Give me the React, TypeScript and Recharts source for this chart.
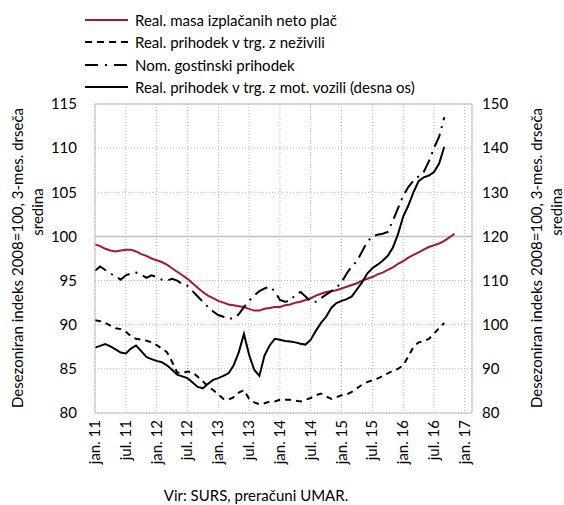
import React from 'react'
import { LineChart, Line, XAxis, YAxis, CartesianGrid, ReferenceLine } from 'recharts'

// months counted from jan. 2011 (index 0)
const wageMass = [
  99.1, 98.9, 98.6, 98.4, 98.3, 98.4, 98.5, 98.5, 98.3, 98.0, 97.8, 97.5,
  97.3, 97.1, 96.8, 96.4, 96.0, 95.6, 95.2, 94.7, 94.2, 93.7, 93.3, 93.0,
  92.7, 92.5, 92.3, 92.2, 92.1, 92.0, 91.8, 91.6, 91.6, 91.8, 91.9, 92.0,
  92.0, 92.2, 92.3, 92.5, 92.6, 92.8, 93.0, 93.3, 93.5, 93.7, 93.8, 93.9,
  94.1, 94.3, 94.5, 94.7, 95.0, 95.2, 95.4, 95.7, 95.9, 96.2, 96.5, 96.9,
  97.2, 97.6, 97.9, 98.2, 98.5, 98.8, 99.0, 99.2, 99.5, 99.9, 100.3,
]

const nonFoodRetail = [
  90.5, 90.4, 90.2, 89.9, 89.6, 89.5, 89.2, 88.7, 88.4, 88.3, 88.2, 88.0,
  87.7, 87.3, 86.9, 85.8, 84.6, 84.5, 84.7, 84.6, 84.1, 83.6, 83.0, 82.6,
  82.1, 81.6, 81.5, 81.8, 82.3, 82.6, 81.6, 81.2, 81.0, 81.1, 81.3, 81.3,
  81.5, 81.5, 81.5, 81.4, 81.3, 81.5, 81.7, 82.0, 82.2, 81.9, 81.6, 81.8,
  82.0, 82.1, 82.4, 82.8, 83.2, 83.5, 83.7, 83.9, 84.2, 84.5, 84.8, 85.0,
  85.4, 86.4, 87.5, 88.0, 88.1, 88.4, 89.0, 89.6, 90.2,
]

const hospitality = [
  96.1, 96.6, 96.2, 95.8, 95.5, 95.1, 95.6, 95.8, 95.9, 95.7, 95.3, 95.6,
  95.4, 95.1, 95.0, 95.2, 95.0, 94.6, 94.4, 93.8, 93.2, 92.6, 92.0, 91.5,
  91.1, 90.9, 90.7, 90.7, 91.2, 92.0, 92.7, 93.3, 93.8, 94.1, 94.3, 93.8,
  92.8, 92.6, 92.7, 93.4, 93.7, 93.2, 92.6, 92.6, 93.0, 93.4, 93.8, 94.2,
  94.8, 95.8, 96.6, 97.2, 98.3, 99.4, 100.0, 100.2, 100.3, 100.5, 101.8, 103.2,
  104.6, 105.6, 106.3, 106.8, 107.3, 108.5, 110.0, 111.3, 113.5,
]

// right axis
const motorVehicles = [
  94.8, 95.2, 95.6, 95.1, 94.4, 93.7, 93.5, 94.6, 95.3, 94.0, 92.7, 92.2,
  91.8, 91.5, 90.8, 89.8, 88.7, 88.3, 87.9, 86.9, 85.9, 85.6, 86.6, 87.5,
  87.9, 88.4, 89.0, 90.8, 93.8, 97.9, 93.2, 89.8, 88.4, 93.0, 95.3, 96.8,
  96.6, 96.3, 96.2, 96.0, 95.7, 95.5, 96.6, 98.6, 100.4, 101.8, 103.8, 104.9,
  105.4, 105.8, 106.4, 108.0, 109.6, 111.6, 112.8, 113.6, 114.5, 115.6, 117.5, 120.5,
  124.5, 127.0, 130.0, 132.5, 133.4, 133.8, 134.6, 136.5, 140.3,
]

const xTickLabels = [
  'jan. 11', 'jul. 11', 'jan. 12', 'jul. 12', 'jan. 13', 'jul. 13', 'jan. 14',
  'jul. 14', 'jan. 15', 'jul. 15', 'jan. 16', 'jul. 16', 'jan. 17',
]
const leftTicks = [80, 85, 90, 95, 100, 105, 110, 115]
const rightTicks = [80, 90, 100, 110, 120, 130, 140, 150]

const seriesNames = [
  'Real. masa izplačanih neto plač',
  'Real. prihodek v trg. z neživili',
  'Nom. gostinski prihodek',
  'Real. prihodek v trg. z mot. vozili (desna os)',
]
const axisTitle = 'Desezoniran indeks 2008=100, 3-mes. drseča'
const axisTitle2 = 'sredina'
const source = 'Vir: SURS, preračuni UMAR.'

const FONT = 'Lato, "Open Sans", sans-serif'
const RED = '#a6192e'

const data = wageMass.map((w, i) => ({
  m: i,
  wage: w,
  nonfood: nonFoodRetail[i] ?? null,
  gost: hospitality[i] ?? null,
  motor: motorVehicles[i] ?? null,
}))

const legendStyles = [
  { stroke: RED, dash: undefined },
  { stroke: '#000', dash: '7 5' },
  { stroke: '#000', dash: '13 7 2 7' },
  { stroke: '#000', dash: undefined },
]

const XTick = (props: any) => {
  const { x, y, payload } = props
  const label = xTickLabels[Math.round(payload.value / 6)]
  return (
    <text
      x={x}
      y={y}
      dx={-7}
      dy={5}
      transform={`rotate(-90 ${x} ${y})`}
      textAnchor="end"
      fontSize={15}
      fontFamily={FONT}
      fill="#000"
    >
      {label}
    </text>
  )
}

const SideTitle = ({ x1, x2 }: { x1: number; x2: number }) => (
  <g fontFamily={FONT} fontSize={15} fill="#000">
    <text x={x1} y={258} transform={`rotate(-90 ${x1} 258)`} textAnchor="middle">
      {axisTitle}
    </text>
    <text x={x2} y={212} transform={`rotate(-90 ${x2} 212)`} textAnchor="middle">
      {axisTitle2}
    </text>
  </g>
)

const LegendBox = () => (
  <div
    style={{
      position: 'absolute',
      top: 9,
      left: 83,
      fontFamily: FONT,
      fontSize: 15,
      color: '#000',
    }}
  >
    {seriesNames.map((name, i) => (
      <div key={name} style={{ display: 'flex', alignItems: 'center', height: 22.3 }}>
        <svg width={52} height={10}>
          <line
            x1={2}
            x2={45}
            y1={5}
            y2={5}
            stroke={legendStyles[i].stroke}
            strokeWidth={2}
            strokeDasharray={legendStyles[i].dash}
          />
        </svg>
        <span>{name}</span>
      </div>
    ))}
  </div>
)

export default function App() {
  return (
    <div style={{ position: 'absolute', left: 0, top: 0, width: 564, height: 505, background: '#fff' }}>
      <LineChart
        width={564}
        height={505}
        data={data}
        margin={{ top: 104, right: 0, bottom: 0, left: 0 }}
      >
        <CartesianGrid stroke="#b5b5b5" strokeDasharray="1 2" />
        <XAxis
          dataKey="m"
          type="number"
          domain={[0, 73.4]}
          ticks={[0, 6, 12, 18, 24, 30, 36, 42, 48, 54, 60, 66, 72]}
          height={92}
          tickSize={0}
          tickMargin={0}
          tick={<XTick />}
          axisLine={{ stroke: '#bfbfbf' }}
          tickLine={false}
          interval={0}
        />
        <YAxis
          domain={[80, 115]}
          ticks={leftTicks}
          width={95}
          tickSize={0}
          tickMargin={18}
          axisLine={{ stroke: '#bfbfbf' }}
          tickLine={false}
          tick={{ fontSize: 15, fontFamily: FONT, fill: '#000' }}
          allowDataOverflow
          label={{ content: () => <SideTitle x1={23} x2={43} /> }}
        />
        <YAxis
          yAxisId="right"
          orientation="right"
          domain={[80, 150]}
          ticks={rightTicks}
          width={92}
          tickSize={0}
          tickMargin={10}
          axisLine={{ stroke: '#bfbfbf' }}
          tickLine={false}
          tick={{ fontSize: 15, fontFamily: FONT, fill: '#000', textAnchor: 'start' }}
          label={{ content: () => <SideTitle x1={542} x2={562} /> }}
        />
        <ReferenceLine y={115} stroke="#bfbfbf" />
        <ReferenceLine y={100} stroke="#bfbfbf" strokeWidth={1.5} />
        <Line dataKey="wage" stroke={RED} strokeWidth={2} dot={false} isAnimationActive={false} />
        <Line dataKey="nonfood" stroke="#000" strokeWidth={2} strokeDasharray="6 5" dot={false} isAnimationActive={false} />
        <Line dataKey="gost" stroke="#000" strokeWidth={2} strokeDasharray="14 6 2 6" dot={false} isAnimationActive={false} />
        <Line yAxisId="right" dataKey="motor" stroke="#000" strokeWidth={2} dot={false} isAnimationActive={false} />
      </LineChart>
      <LegendBox />
      <div
        style={{
          position: 'absolute',
          top: 486,
          left: 0,
          width: 512,
          textAlign: 'center',
          fontFamily: FONT,
          fontSize: 15,
          color: '#000',
        }}
      >
        {source}
      </div>
    </div>
  )
}
